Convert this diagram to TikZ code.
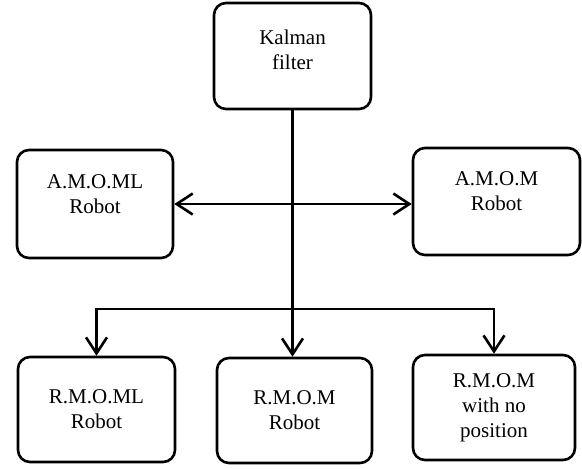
\documentclass[tikz,border=0pt]{standalone}
\usepackage{fontspec}
\setmainfont{Liberation Serif}
\usetikzlibrary{arrows.meta}
\begin{document}
\begin{tikzpicture}[x = .5pt, y = -.5pt,
        box/.style = {draw, line width = 1.3pt, rounded corners = 6pt, align = center,
            font = \fontsize{10.5}{12.5}\selectfont, inner sep = 0pt},
        arr/.style = {line width = 1.3pt, -{Straight Barb[length = 8pt, width = 10.5pt, line width = 1.3pt]}}]
                \useasboundingbox (0, 0) rectangle (582, 468);

                \node (kalman) at (292.5, 56) [box, minimum width = 78.5pt, minimum height = 53pt, text depth = 6pt] {Kalman\\filter};
                \node (amoml) at (95, 204) [box, minimum width = 78pt, minimum height = 54pt, text depth = 10pt] {A.M.O.ML\\Robot};
                \node (amom) at (496.5, 201.5) [box, minimum width = 83.5pt, minimum height = 53.5pt, text depth = 10pt] {A.M.O.M\\Robot};

                \node (rmoml) at (96.5, 409.5) [box, minimum width = 78.5pt, minimum height = 52.5pt] {R.M.O.ML\\Robot};
                \node (rmom) at (294.5, 410.5) [box, minimum width = 77.5pt, minimum height = 52.5pt] {R.M.O.M\\Robot};
                \node (rmomnp) at (494, 407.5) [box, minimum width = 81pt, minimum height = 52.5pt] {R.M.O.M\\with no\\position};

                \coordinate (split) at (kalman.south |- 0, 309);

                \draw[ arr ] (kalman.south) -- (kalman.south |- rmom.north);
                \draw[ arr, {Straight Barb[length = 8pt, width = 10.5pt, line width = 1.3pt]}-{Straight Barb[length = 8pt, width = 10.5pt, line width = 1.3pt]} ] (amoml.east) -- (amoml.east -| amom.west);
                \draw[ arr ] (split) -| (rmoml.north);
                \draw[ arr ] (split) -| (rmomnp.north);
            \end{tikzpicture}
\end{document}
